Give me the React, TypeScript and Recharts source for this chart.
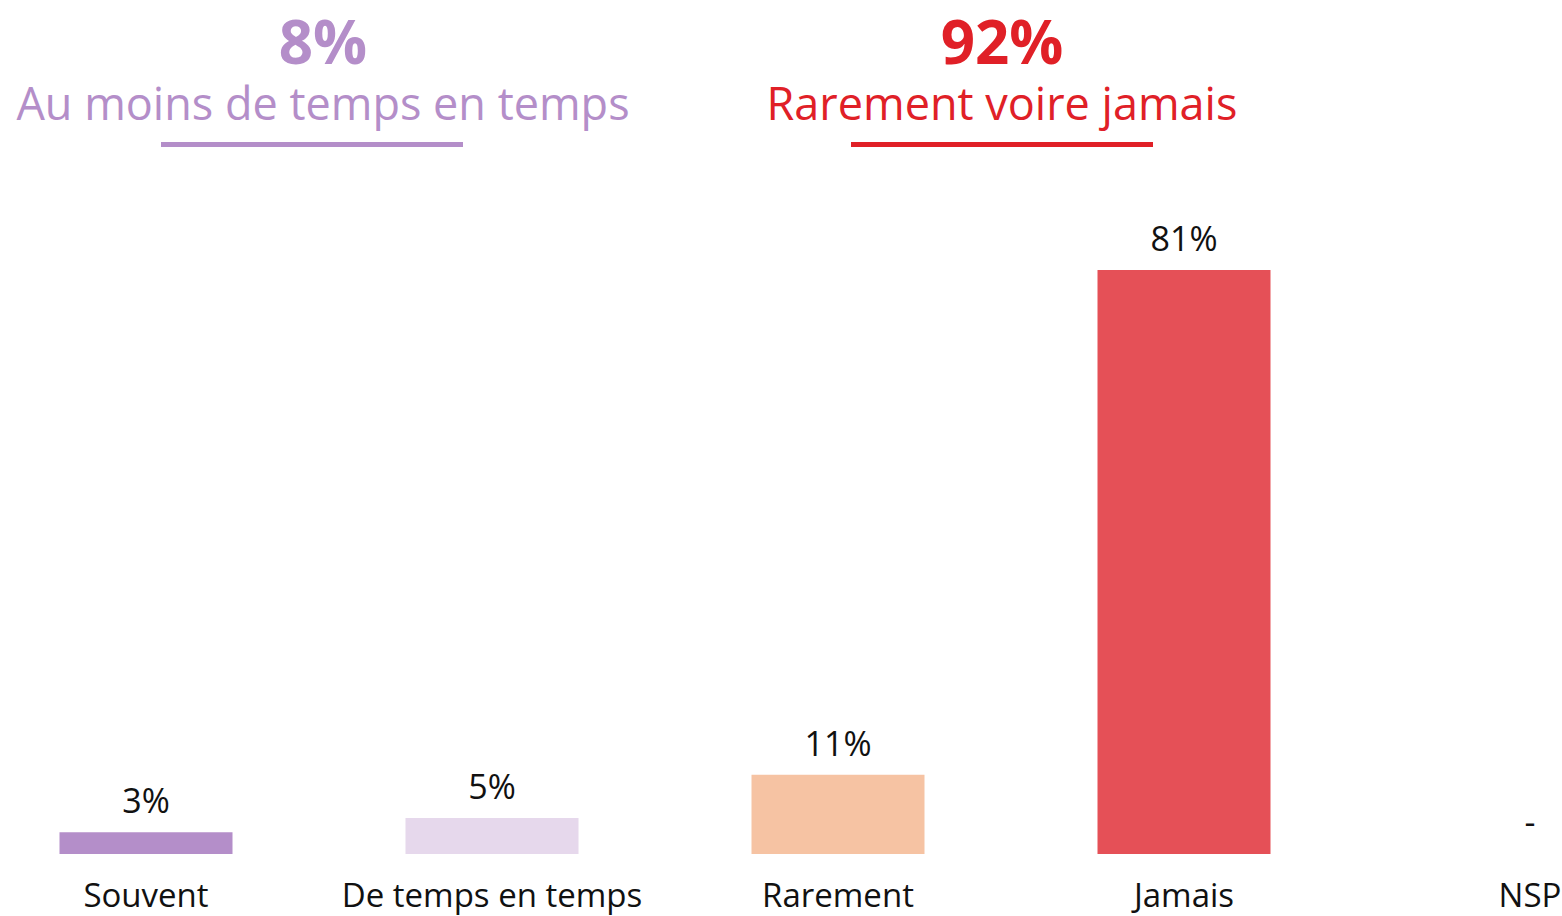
import { BarChart, Bar, XAxis, YAxis, Cell, LabelList } from "recharts";

const categories = ["Souvent", "De temps en temps", "Rarement", "Jamais", "NSP"];
const values = [3, 5, 11, 81, 0];
const barColors = ["#B48EC9", "#E6D8EC", "#F6C3A3", "#E55057", "transparent"];

const groupTotals = ["8%", "92%"];
const groupLabels = ["Au moins de temps en temps", "Rarement voire jamais"];
const groupColors = ["#B48EC9", "#E02027"];
const groupCenters = [323, 1002];
const underlineCenters = [312, 1002];

const FONT = "'Open Sans', 'Noto Sans', sans-serif";

const data = categories.map((c, i) => ({ name: c, value: values[i] }));

function ValueLabel(props: any) {
  const { x, y, width, value } = props;
  const text = value === 0 ? "-" : `${value}%`;
  return (
    <text
      x={x + width / 2}
      y={y - 19}
      textAnchor="middle"
      fontSize={34}
      fill="#111"
      fontFamily={FONT}
    >
      {text}
    </text>
  );
}

function Headers() {
  return (
    <svg
      width={1562}
      height={160}
      style={{ position: "absolute", left: 0, top: 0 }}
    >
      {groupTotals.map((t, i) => (
        <g key={t} fill={groupColors[i]} fontFamily={FONT}>
          <text x={groupCenters[i]} y={64} textAnchor="middle" fontSize={60} fontWeight={700}>
            {t}
          </text>
          <text x={groupCenters[i]} y={120} textAnchor="middle" fontSize={45}>
            {groupLabels[i]}
          </text>
          <rect x={underlineCenters[i] - 151} y={142} width={302} height={5} />
        </g>
      ))}
    </svg>
  );
}

export default function App() {
  return (
    <div
      style={{
        position: "fixed",
        left: 0,
        top: 0,
        width: 1562,
        height: 916,
        overflow: "hidden",
        background: "#fff",
      }}
    >
      <div style={{ position: "absolute", left: -27, top: 0 }}>
        <BarChart
          width={1730}
          height={916}
          data={data}
          margin={{ top: 133, right: 0, bottom: 0, left: 0 }}
          barCategoryGap="25%"
        >
          <XAxis
            dataKey="name"
            axisLine={false}
            tickLine={false}
            interval={0}
            tick={{ fontSize: 33, fill: "#111", fontFamily: FONT }}
            tickMargin={24}
            height={62}
          />
          <YAxis hide domain={[0, 100]} />
          <Bar dataKey="value" isAnimationActive={false} minPointSize={1}>
            {data.map((d, i) => (
              <Cell key={d.name} fill={barColors[i]} />
            ))}
            <LabelList dataKey="value" content={<ValueLabel />} />
          </Bar>
        </BarChart>
      </div>
      <Headers />
    </div>
  );
}
